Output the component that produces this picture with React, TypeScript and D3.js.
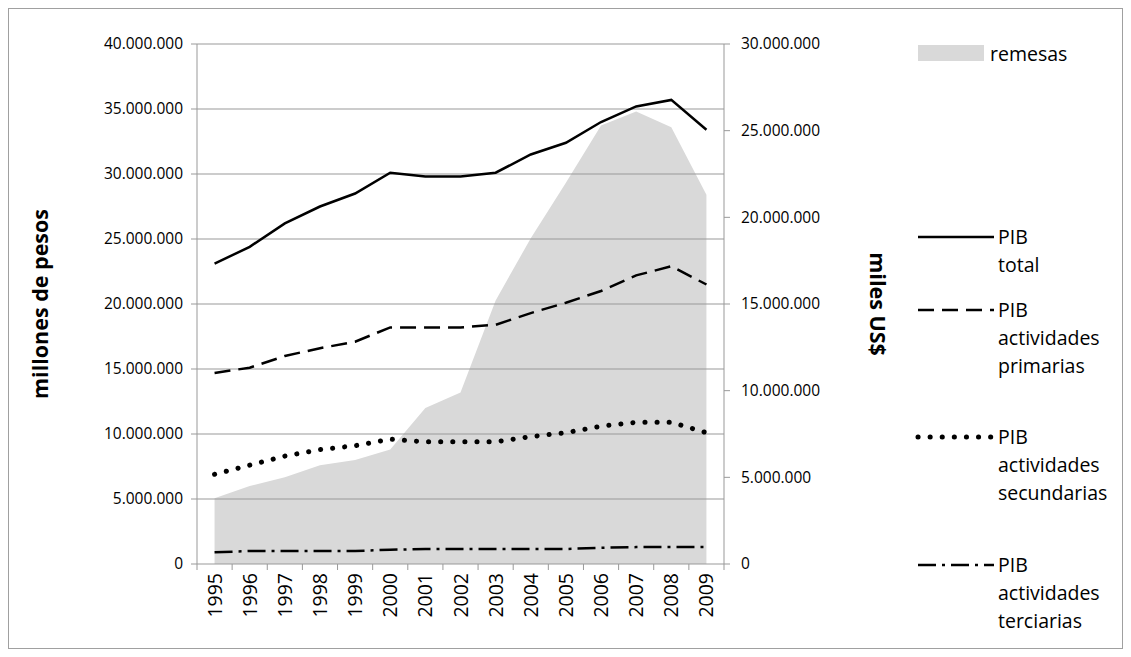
import React from "react";
import * as d3 from "d3";

const years = ["1995","1996","1997","1998","1999","2000","2001","2002","2003","2004","2005","2006","2007","2008","2009"];
const remesas = [3.8,4.5,5.0,5.7,6.0,6.6,9.0,9.9,15.2,18.8,22.0,25.3,26.1,25.2,21.3].map(v=>v*1e6);
const pibTotal = [23.1,24.4,26.2,27.5,28.5,30.1,29.8,29.8,30.1,31.5,32.4,34.0,35.2,35.7,33.4].map(v=>v*1e6);
const pibPrim = [14.7,15.1,16.0,16.6,17.1,18.2,18.2,18.2,18.4,19.3,20.1,21.0,22.2,22.9,21.5].map(v=>v*1e6);
const pibSec = [6.9,7.6,8.3,8.8,9.1,9.6,9.4,9.4,9.4,9.8,10.1,10.6,10.9,10.9,10.1].map(v=>v*1e6);
const pibTer = [0.9,1.0,1.0,1.0,1.0,1.1,1.15,1.15,1.15,1.15,1.15,1.25,1.3,1.3,1.3].map(v=>v*1e6);
const leftTicks = [0,5e6,10e6,15e6,20e6,25e6,30e6,35e6,40e6];
const rightTicks = [0,5e6,10e6,15e6,20e6,25e6,30e6];

const fmt = (v:number)=> v===0 ? "0" : d3.format(",")(v).replace(/,/g,".");

export default function App(){
  const L=197,R=724,T=44,B=564;
  const x = d3.scaleBand().domain(years).range([L,R]);
  const cx = (i:number)=> (x(years[i]) as number)+x.bandwidth()/2;
  const yl = d3.scaleLinear().domain([0,40e6]).range([B,T]);
  const yr = d3.scaleLinear().domain([0,30e6]).range([B,T]);
  const area = d3.area<number>().x((_,i)=>cx(i)).y0(B).y1(d=>yr(d));
  const line = d3.line<number>().x((_,i)=>cx(i)).y(d=>yl(d));
  const font = "'Open Sans', sans-serif";
  const series = [
    {d:pibTotal, dash:undefined, cap:"butt", w:2.5},
    {d:pibPrim, dash:"16 8", cap:"butt", w:2.5},
    {d:pibSec, dash:"0.1 12", cap:"round", w:5},
    {d:pibTer, dash:"18 6 3 6", cap:"butt", w:2.5},
  ];
  const legend = [
    {y:237, lines:["PIB","total"], dash:undefined, cap:"butt", w:2.5},
    {y:310, lines:["PIB","actividades","primarias"], dash:"16 8", cap:"butt", w:2.5},
    {y:437, lines:["PIB","actividades","secundarias"], dash:"0.1 12", cap:"round", w:5},
    {y:565, lines:["PIB","actividades","terciarias"], dash:"18 6 3 6", cap:"butt", w:2.5},
  ];
  return (
    <svg width={1131} height={657} style={{position:"absolute",left:0,top:0}} fontFamily={font}>
      <rect x={8.5} y={8.5} width={1114} height={640} fill="white" stroke="#a0a0a0"/>
      <path d={area(remesas)!} fill="#d9d9d9"/>
      {leftTicks.map(t=> <line key={t} x1={L} x2={R} y1={yl(t)} y2={yl(t)} stroke="#999" strokeWidth={1}/>)}
      <line x1={L} x2={L} y1={T} y2={B} stroke="#999"/>
      <line x1={R} x2={R} y1={T} y2={B} stroke="#999"/>
      {leftTicks.map(t=> <g key={"l"+t}>
        <line x1={L-6} x2={L} y1={yl(t)} y2={yl(t)} stroke="#999"/>
        <text x={L-14} y={yl(t)} dy="0.35em" textAnchor="end" fontSize={15.5}>{fmt(t)}</text>
      </g>)}
      {rightTicks.map(t=> <g key={"r"+t}>
        <line x1={R} x2={R+6} y1={yr(t)} y2={yr(t)} stroke="#999"/>
        <text x={R+17} y={yr(t)} dy="0.35em" fontSize={15.5}>{fmt(t)}</text>
      </g>)}
      {years.map((yv,i)=> <g key={yv}>
        <line x1={x(yv)} x2={x(yv)} y1={B} y2={B+6} stroke="#999"/>
        <text transform={`translate(${cx(i)+7},${B+9}) rotate(-90)`} textAnchor="end" fontSize={19.5}>{yv}</text>
      </g>)}
      <line x1={R} x2={R} y1={B} y2={B+6} stroke="#999"/>
      {series.map((s,i)=> <path key={i} d={line(s.d)!} fill="none" stroke="black" strokeWidth={s.w} strokeDasharray={s.dash} strokeLinecap={s.cap as any}/>)}
      <text transform={`translate(48,304) rotate(-90)`} textAnchor="middle" fontSize={21.5} fontWeight="bold">millones de pesos</text>
      <text transform={`translate(870,304) rotate(90)`} textAnchor="middle" fontSize={21.5} fontWeight="bold">miles US$</text>
      <rect x={918} y={45} width={66} height={16} fill="#d9d9d9"/>
      <text x={990} y={61} fontSize={19.5}>remesas</text>
      {legend.map((g,i)=> <g key={i}>
        <line x1={918} x2={994} y1={g.y} y2={g.y} stroke="black" strokeWidth={g.w} strokeDasharray={g.dash} strokeLinecap={g.cap as any}/>
        {g.lines.map((t,j)=> <text key={j} x={998} y={g.y+7+j*28} fontSize={19.5}>{t}</text>)}
      </g>)}
    </svg>
  );
}
